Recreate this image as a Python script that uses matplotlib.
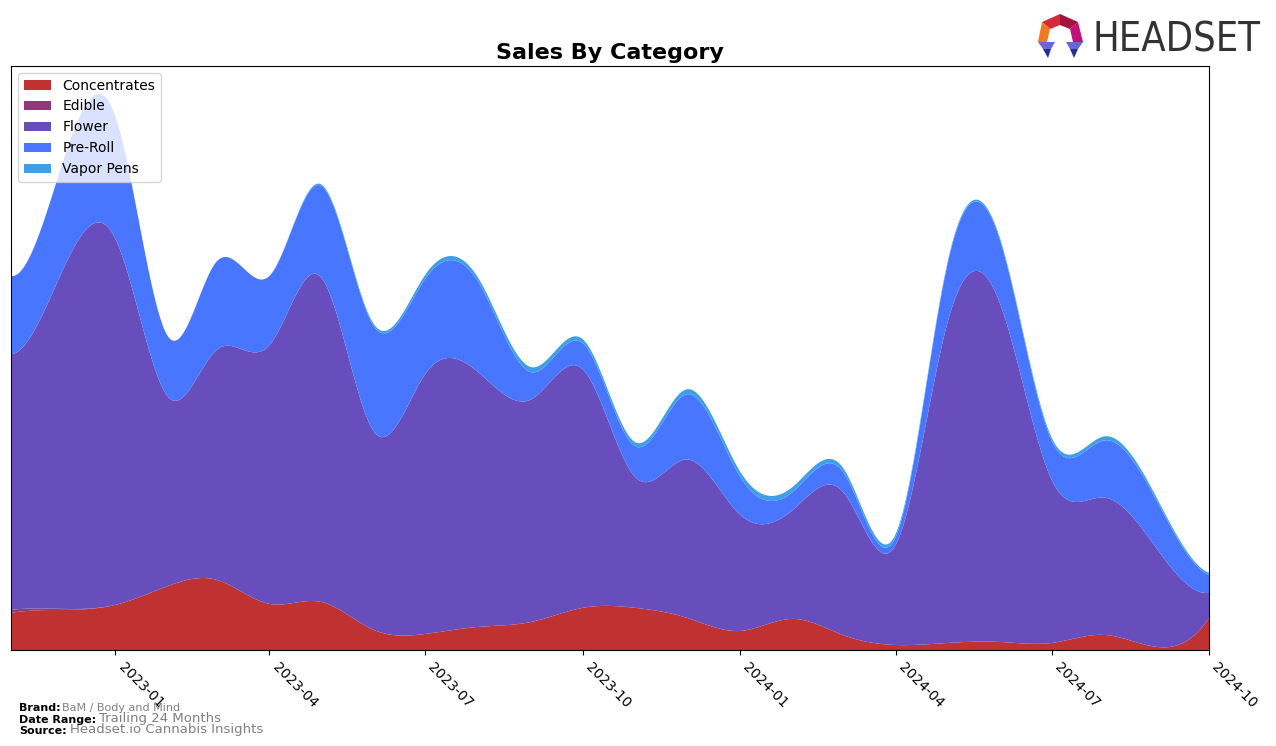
import numpy as np
import pandas as pd
import matplotlib
matplotlib.use("Agg")
import matplotlib.pyplot as plt
import matplotlib.dates as mdates
from matplotlib.patches import Polygon

# ---------------- data (monthly sales, arbitrary units) ----------------
months = pd.date_range("2022-11-01", "2024-10-01", freq="MS")
categories = ["Concentrates", "Edible", "Flower", "Pre-Roll", "Vapor Pens"]
concentrates = [37, 40, 45, 64, 70, 46, 48, 20, 16, 23, 28, 42,
                42, 32, 19, 31, 15, 5, 7, 8, 7, 15, 3, 32]
edible = [3, 1, 0, 0, 0, 0, 0, 0, 0, 0, 0, 0,
          0, 0, 0, 0, 0, 0, 0, 0, 0, 0, 0, 0]
flower = [255, 337, 365, 188, 229, 258, 324, 198, 259, 254, 222, 238,
          130, 158, 116, 109, 143, 100, 318, 337, 163, 137, 97, 25]
preroll = [78, 107, 122, 60, 88, 69, 91, 105, 95, 90, 27, 26,
           31, 65, 38, 18, 20, 8, 58, 63, 39, 57, 47, 18]
vapor = [0, 0, 0, 0, 0, 0, 1.5, 2, 4, 4, 5, 4,
         4, 5, 5, 5, 4, 3, 2, 2, 3, 4, 3, 2]
colors = ["#c03232", "#8e3a7a", "#684ebc", "#4876ff", "#3e9ee8"]


def spline(x, y, xn):
    """Not-a-knot cubic spline through (x, y), evaluated at xn."""
    x = np.asarray(x, float)
    y = np.asarray(y, float)
    n = len(x)
    h = np.diff(x)
    A = np.zeros((n, n))
    b = np.zeros(n)
    for i in range(1, n - 1):
        A[i, i - 1] = h[i - 1]
        A[i, i] = 2 * (h[i - 1] + h[i])
        A[i, i + 1] = h[i]
        b[i] = 6 * ((y[i + 1] - y[i]) / h[i] - (y[i] - y[i - 1]) / h[i - 1])
    A[0, 0], A[0, 1], A[0, 2] = h[1], -(h[0] + h[1]), h[0]
    A[-1, -3], A[-1, -2], A[-1, -1] = h[-1], -(h[-2] + h[-1]), h[-2]
    M = np.linalg.solve(A, b)
    idx = np.clip(np.searchsorted(x, xn) - 1, 0, n - 2)
    x0, x1 = x[idx], x[idx + 1]
    hh = x1 - x0
    t0 = xn - x0
    t1 = x1 - xn
    return (M[idx] * t1 ** 3 / (6 * hh) + M[idx + 1] * t0 ** 3 / (6 * hh)
            + (y[idx] / hh - M[idx] * hh / 6) * t1
            + (y[idx + 1] / hh - M[idx + 1] * hh / 6) * t0)


xnum = mdates.date2num(months.to_pydatetime())
xs = np.linspace(xnum[0], xnum[-1], 1500)
series = [concentrates, edible, flower, preroll, vapor]
smooth = [np.clip(spline(xnum, s, xs), 0, None) for s in series]

# ---------------- figure ----------------
W, H = 1276, 746
fig = plt.figure(figsize=(W / 100, H / 100), dpi=100)
ax = fig.add_axes([11 / W, 1 - 650 / H, (1209 - 11) / W, (650 - 66) / H])

ax.stackplot(xs, *smooth, labels=categories, colors=colors, linewidth=0)
ax.set_xlim(xnum[0], xnum[-1])
ax.set_ylim(0, np.max(np.sum(smooth, axis=0)) * 1.05)

ax.xaxis.set_major_locator(mdates.MonthLocator(bymonth=[1, 4, 7, 10]))
ax.xaxis.set_major_formatter(mdates.DateFormatter("%Y-%m"))
for lab in ax.get_xticklabels():
    lab.set_rotation(-45)
    lab.set_ha("left")
    lab.set_va("top")
    lab.set_fontsize(10)
ax.set_yticks([])
ax.set_title("Sales By Category", fontsize=16, fontweight="bold", pad=5)
ax.legend(loc="upper left", fontsize=10)

# ---------------- footer ----------------
def footer(y, label, value, vsize, gap):
    t = fig.text(19 / W, 1 - y / H, label, fontsize=8, fontweight="bold",
                 color="black", va="bottom", ha="left")
    plt.annotate(value, xy=(1, 0), xycoords=t, xytext=(gap, 0),
                 textcoords="offset pixels", fontsize=vsize,
                 color="#808080", va="bottom", ha="left")

footer(713, "Brand:", "BaM / Body and Mind", 8, 1)
footer(725, "Date Range:", "Trailing 24 Months", 9.5, 3)
footer(736, "Source:", "Headset.io Cannabis Insights", 9.5, 3)

# ---------------- logo ----------------
lax = fig.add_axes([1030 / W, 1 - 62 / H, 240 / W, 52 / H])
lax.set_xlim(1030, 1270)
lax.set_ylim(62, 10)
lax.axis("off")
pieces = [
    ([(1042, 22), (1060, 14), (1060, 25), (1050, 29)], "#d42a3a"),
    ([(1060, 14), (1078, 22), (1070, 29), (1060, 25)], "#a3143c"),
    ([(1078, 22), (1083, 42), (1073, 42), (1070, 29)], "#c0127a"),
    ([(1042, 22), (1050, 29), (1047, 42), (1038, 42)], "#f07a22"),
    ([(1038, 42), (1055, 42), (1051, 49), (1043, 49)], "#6c64dc"),
    ([(1043, 49), (1051, 49), (1048, 58)], "#2c2c8c"),
    ([(1066, 42), (1083, 42), (1078, 49), (1070, 49)], "#6c64dc"),
    ([(1070, 49), (1078, 49), (1074, 58)], "#2c2c8c"),
]
for pts, c in pieces:
    lax.add_patch(Polygon(pts, closed=True, color=c, lw=0))
logo = lax.text(1092, 40, "HEADSET", fontsize=30, color="#333333",
                family="DejaVu Sans", fontstretch="condensed",
                va="center", ha="left")
renderer = fig.canvas.get_renderer()
wpx = logo.get_window_extent(renderer).width
logo.set_fontsize(30 * 168 / wpx)

fig.savefig("out.png", dpi=100)
